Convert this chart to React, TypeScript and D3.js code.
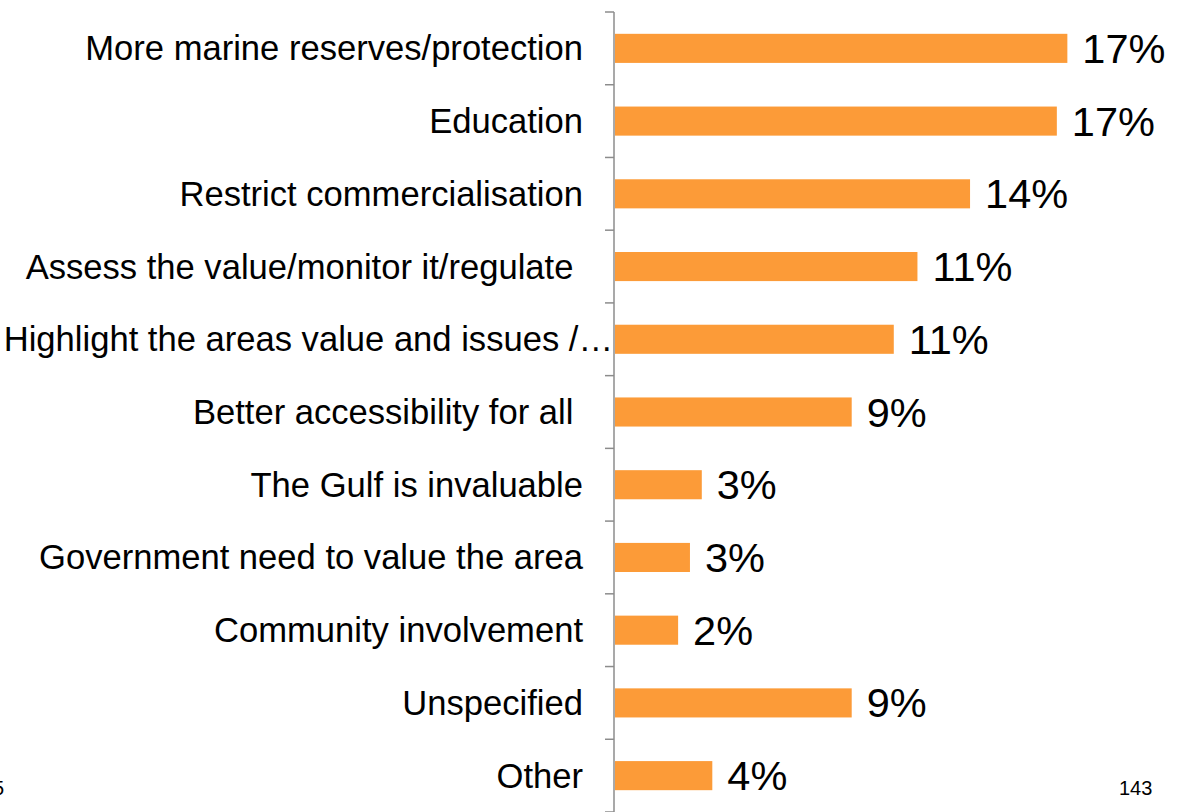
import React from "react";
import * as d3 from "d3";

const categories = [
  "More marine reserves/protection",
  "Education",
  "Restrict commercialisation",
  "Assess the value/monitor it/regulate ",
  "Highlight the areas value and issues /…",
  "Better accessibility for all ",
  "The Gulf is invaluable",
  "Government need to value the area",
  "Community involvement",
  "Unspecified",
  "Other",
];
const values = [17.2, 16.8, 13.5, 11.5, 10.6, 9.0, 3.3, 2.85, 2.4, 9.0, 3.7];
const valueLabels = ["17%", "17%", "14%", "11%", "11%", "9%", "3%", "3%", "2%", "9%", "4%"];

const W = 1179;
const H = 812;
const axisX = 614;

const App = () => {
  const y = d3
    .scaleBand<string>()
    .domain(categories)
    .range([12, 812])
    .paddingInner(0.6)
    .paddingOuter(0.3);
  const x = d3.scaleLinear().domain([0, 20]).range([axisX + 1, axisX + 1 + 526]);
  const step = y.step();
  const tickYs = d3.range(categories.length + 1).map((i) => 12 + i * step);
  const font = "'Liberation Sans', Arial, sans-serif";

  return (
    <svg
      width={W}
      height={H}
      style={{ position: "absolute", left: 0, top: 0, background: "#fff" }}
      fontFamily={font}
    >
      {categories.map((c, i) => {
        const cy = (y(c) as number) + y.bandwidth() / 2;
        // the cut-off label runs right up to the axis line
        const truncated = c.endsWith("…");
        return (
          <g key={c}>
            <rect
              x={x(0)}
              y={y(c)}
              width={x(values[i]) - x(0)}
              height={y.bandwidth()}
              fill="#FC9B38"
            />
            <text
              x={truncated ? axisX - 1 : 583}
              y={cy + 12}
              textAnchor="end"
              fontSize={34.6}
              fill="#000"
              style={{ whiteSpace: "pre" }}
            >
              {c}
            </text>
            <text x={x(values[i]) + 15} y={cy + 14.5} fontSize={41.5} fill="#000">
              {valueLabels[i]}
            </text>
          </g>
        );
      })}
      <line x1={axisX} x2={axisX} y1={12} y2={H} stroke="#8c8c8c" strokeWidth={1.5} />
      {tickYs.map((t, i) => (
        <line key={i} x1={axisX - 9} x2={axisX} y1={t} y2={t} stroke="#8c8c8c" strokeWidth={1.5} />
      ))}
      <text x={4} y={795} textAnchor="end" fontSize={20} fill="#000">
        5
      </text>
      <text x={1119} y={795} fontSize={20} fill="#000">
        143
      </text>
    </svg>
  );
};

export default App;
